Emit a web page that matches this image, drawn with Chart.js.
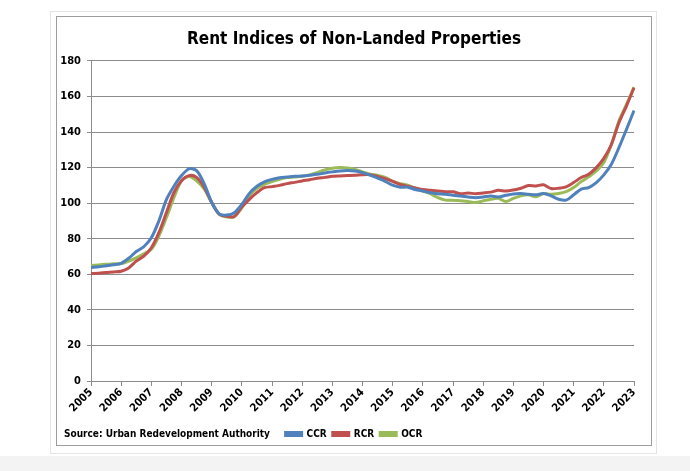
<!DOCTYPE html>
<html>
<head>
<meta charset="utf-8">
<script src="https://cdn.jsdelivr.net/npm/chart.js@4/dist/chart.umd.min.js"></script>
<style>
    body { margin: 0; background: #ffffff; width: 690px; height: 471px; overflow: hidden; position: relative; }
    #strip { position: absolute; left: 0; top: 456px; width: 690px; height: 15px; background: #f3f3f3; }
    #frame { position: absolute; left: 50px; top: 11px; width: 607px; height: 443px; border: 1px solid #e4e4e4; box-sizing: border-box; }
    #box { position: absolute; left: 56px; top: 16px; width: 596px; height: 430px; border: 1px solid #9c9c9c; box-sizing: border-box; background: #fff; }
    #chart { display: block; }
</style>
</head>
<body>
<div id="strip"></div>
<div id="frame"></div>
<div id="box"><canvas id="chart" width="594" height="428"></canvas></div>
<script>
const years = [2005, 2006, 2007, 2008, 2009, 2010, 2011, 2012, 2013, 2014, 2015, 2016, 2017, 2018, 2019, 2020, 2021, 2022, 2023];

// Quarterly rent index, 2005Q1 .. 2023Q1
const ccr = [
    63.8, 64.2, 64.8, 65.4,
    66.2, 69.0, 72.8, 75.5,
    80.5, 90.0, 102.0, 109.5,
    115.5, 119.3, 118.3, 111.0,
    100.5, 94.0, 93.3, 94.6,
    99.3, 105.5, 109.5, 112.0,
    113.4, 114.3, 114.7, 115.1,
    115.3, 115.7, 116.2, 117.0,
    117.6, 118.1, 118.3, 118.1,
    117.2, 115.8, 114.1, 112.3,
    110.1, 109.0, 109.0, 107.7,
    106.8, 105.9, 105.3, 105.0,
    104.4, 104.0, 103.5, 103.1,
    103.5, 104.0, 103.5, 104.4,
    105.2, 105.4, 105.0, 104.7,
    105.4, 104.1, 102.2, 101.7,
    104.7, 107.9, 108.8, 111.6,
    115.9, 121.9, 131.2, 141.5,
    152.1
];
const rcr = [
    60.4, 60.6, 61.0, 61.3,
    61.7, 63.6, 67.4, 70.2,
    74.9, 83.4, 94.7, 106.0,
    112.6, 115.5, 114.5, 109.0,
    100.4, 93.8, 92.7, 92.5,
    97.8, 102.1, 105.9, 108.7,
    109.3, 110.0, 111.0, 111.7,
    112.5, 113.2, 114.0, 114.5,
    115.1, 115.3, 115.5, 115.7,
    116.0, 116.0, 115.0, 113.8,
    112.3, 110.5, 109.5, 108.6,
    107.7, 107.2, 106.8, 106.4,
    106.4, 105.3, 105.7, 105.3,
    105.7, 106.2, 107.2, 106.8,
    107.4, 108.4, 109.9, 109.7,
    110.3, 108.2, 108.4, 109.2,
    111.6, 114.4, 116.3, 120.0,
    125.2, 133.0, 145.2, 154.6,
    164.9
];
const ocr = [
    65.0, 65.3, 65.6, 65.9,
    66.0, 67.4, 69.2, 71.5,
    74.0, 81.5, 91.9, 103.2,
    112.6, 115.0, 112.6, 108.0,
    100.4, 93.8, 92.2, 92.4,
    97.4, 104.0, 108.3, 110.6,
    112.1, 113.4, 114.4, 114.7,
    115.1, 115.9, 117.2, 118.7,
    119.6, 120.0, 119.8, 119.0,
    117.6, 116.3, 115.6, 114.5,
    112.3, 111.0, 110.1, 108.3,
    106.8, 105.3, 103.1, 101.7,
    101.7, 101.3, 100.9, 100.4,
    101.3, 102.2, 102.7, 100.9,
    102.7, 104.1, 104.7, 103.6,
    105.4, 105.0, 105.4, 106.5,
    108.8, 112.1, 114.8, 118.1,
    122.8, 133.0, 146.2, 155.5,
    165.2
];

const seriesNames = ["CCR", "RCR", "OCR"];
const seriesColors = ["#4F81BD", "#C0504D", "#9BBB59"];
const yTicks = [0, 20, 40, 60, 80, 100, 120, 140, 160, 180];

// quarter labels, last one is 2023 Q1
let quarterLabels = [];
years.forEach(y => {
    for (let q = 1; q <= 4; q++) {
        if (y === years[years.length - 1] && q > 1) break;
        quarterLabels.push(y + " Q" + q);
    }
});

const FONT = "'Liberation Sans Narrow', 'DejaVu Sans Condensed', 'Liberation Sans', sans-serif";
const gridGrey = "#8c8c8c";

// Source note drawn on the left of the legend row
const sourcePlugin = {
    id: "sourceNote",
    afterDraw(chart) {
        const ctx = chart.ctx;
        const item = chart.legend.legendHitBoxes[0];
        ctx.save();
        ctx.font = "bold 10px " + FONT;
        ctx.fillStyle = "#000";
        ctx.textBaseline = "middle";
        ctx.fillText("Source: Urban Redevelopment Authority", 7, item.top + item.height / 2);
        ctx.restore();
    }
};

const datasets = [ccr, rcr, ocr].map((values, i) => ({
    label: seriesNames[i],
    data: values,
    borderColor: seriesColors[i],
    backgroundColor: seriesColors[i],
    borderWidth: 3,
    pointRadius: 0,
    tension: 0.3,
    fill: false
}));

new Chart(document.getElementById("chart").getContext("2d"), {
    type: "line",
    data: { labels: quarterLabels, datasets: datasets },
    plugins: [sourcePlugin],
    options: {
        responsive: false,
        animation: false,
        layout: { padding: { top: 4, right: 0, bottom: -4, left: 0 } },
        plugins: {
            title: {
                display: true,
                text: "Rent Indices of Non-Landed Properties",
                color: "#000",
                font: { family: FONT, size: 17, weight: "bold" },
                padding: { top: 8, bottom: 11.5 }
            },
            legend: {
                position: "bottom",
                align: "center",
                labels: {
                    color: "#000",
                    font: { family: FONT, size: 10, weight: "bold" },
                    boxWidth: 16,
                    boxHeight: 3,
                    padding: 6
                }
            },
            tooltip: { enabled: false }
        },
        scales: {
            x: {
                type: "category",
                offset: false,
                afterFit: axis => { axis.height = 42; },
                grid: {
                    drawOnChartArea: false,
                    drawTicks: true,
                    tickLength: 5,
                    color: ctx => (ctx.index % 4 === 0 ? gridGrey : "rgba(0,0,0,0)")
                },
                border: { color: gridGrey, width: 1 },
                ticks: {
                    autoSkip: false,
                    maxRotation: 45,
                    minRotation: 45,
                    color: "#000",
                    font: { family: FONT, size: 11, weight: "bold" },
                    padding: 0,
                    callback: function(val, i) {
                        const lab = quarterLabels[i];
                        return lab.endsWith("Q1") ? lab.slice(0, 4) : "";
                    }
                }
            },
            y: {
                min: 0,
                max: 180,
                afterBuildTicks: axis => { axis.ticks = yTicks.map(v => ({ value: v })); },
                afterFit: axis => { axis.width = 34; },
                grid: { color: gridGrey, lineWidth: 1, tickLength: 4 },
                border: { color: gridGrey, width: 1 },
                ticks: {
                    color: "#000",
                    font: { family: FONT, size: 11, weight: "bold" },
                    padding: 6
                }
            },
            // empty right-hand spacer so the title and legend stay centred on the box
            yRight: {
                position: "right",
                min: 0,
                max: 180,
                afterFit: axis => { axis.width = 17; },
                grid: { drawOnChartArea: false, drawTicks: false },
                border: { display: false },
                ticks: { display: false }
            }
        }
    }
});
</script>
</body>
</html>
